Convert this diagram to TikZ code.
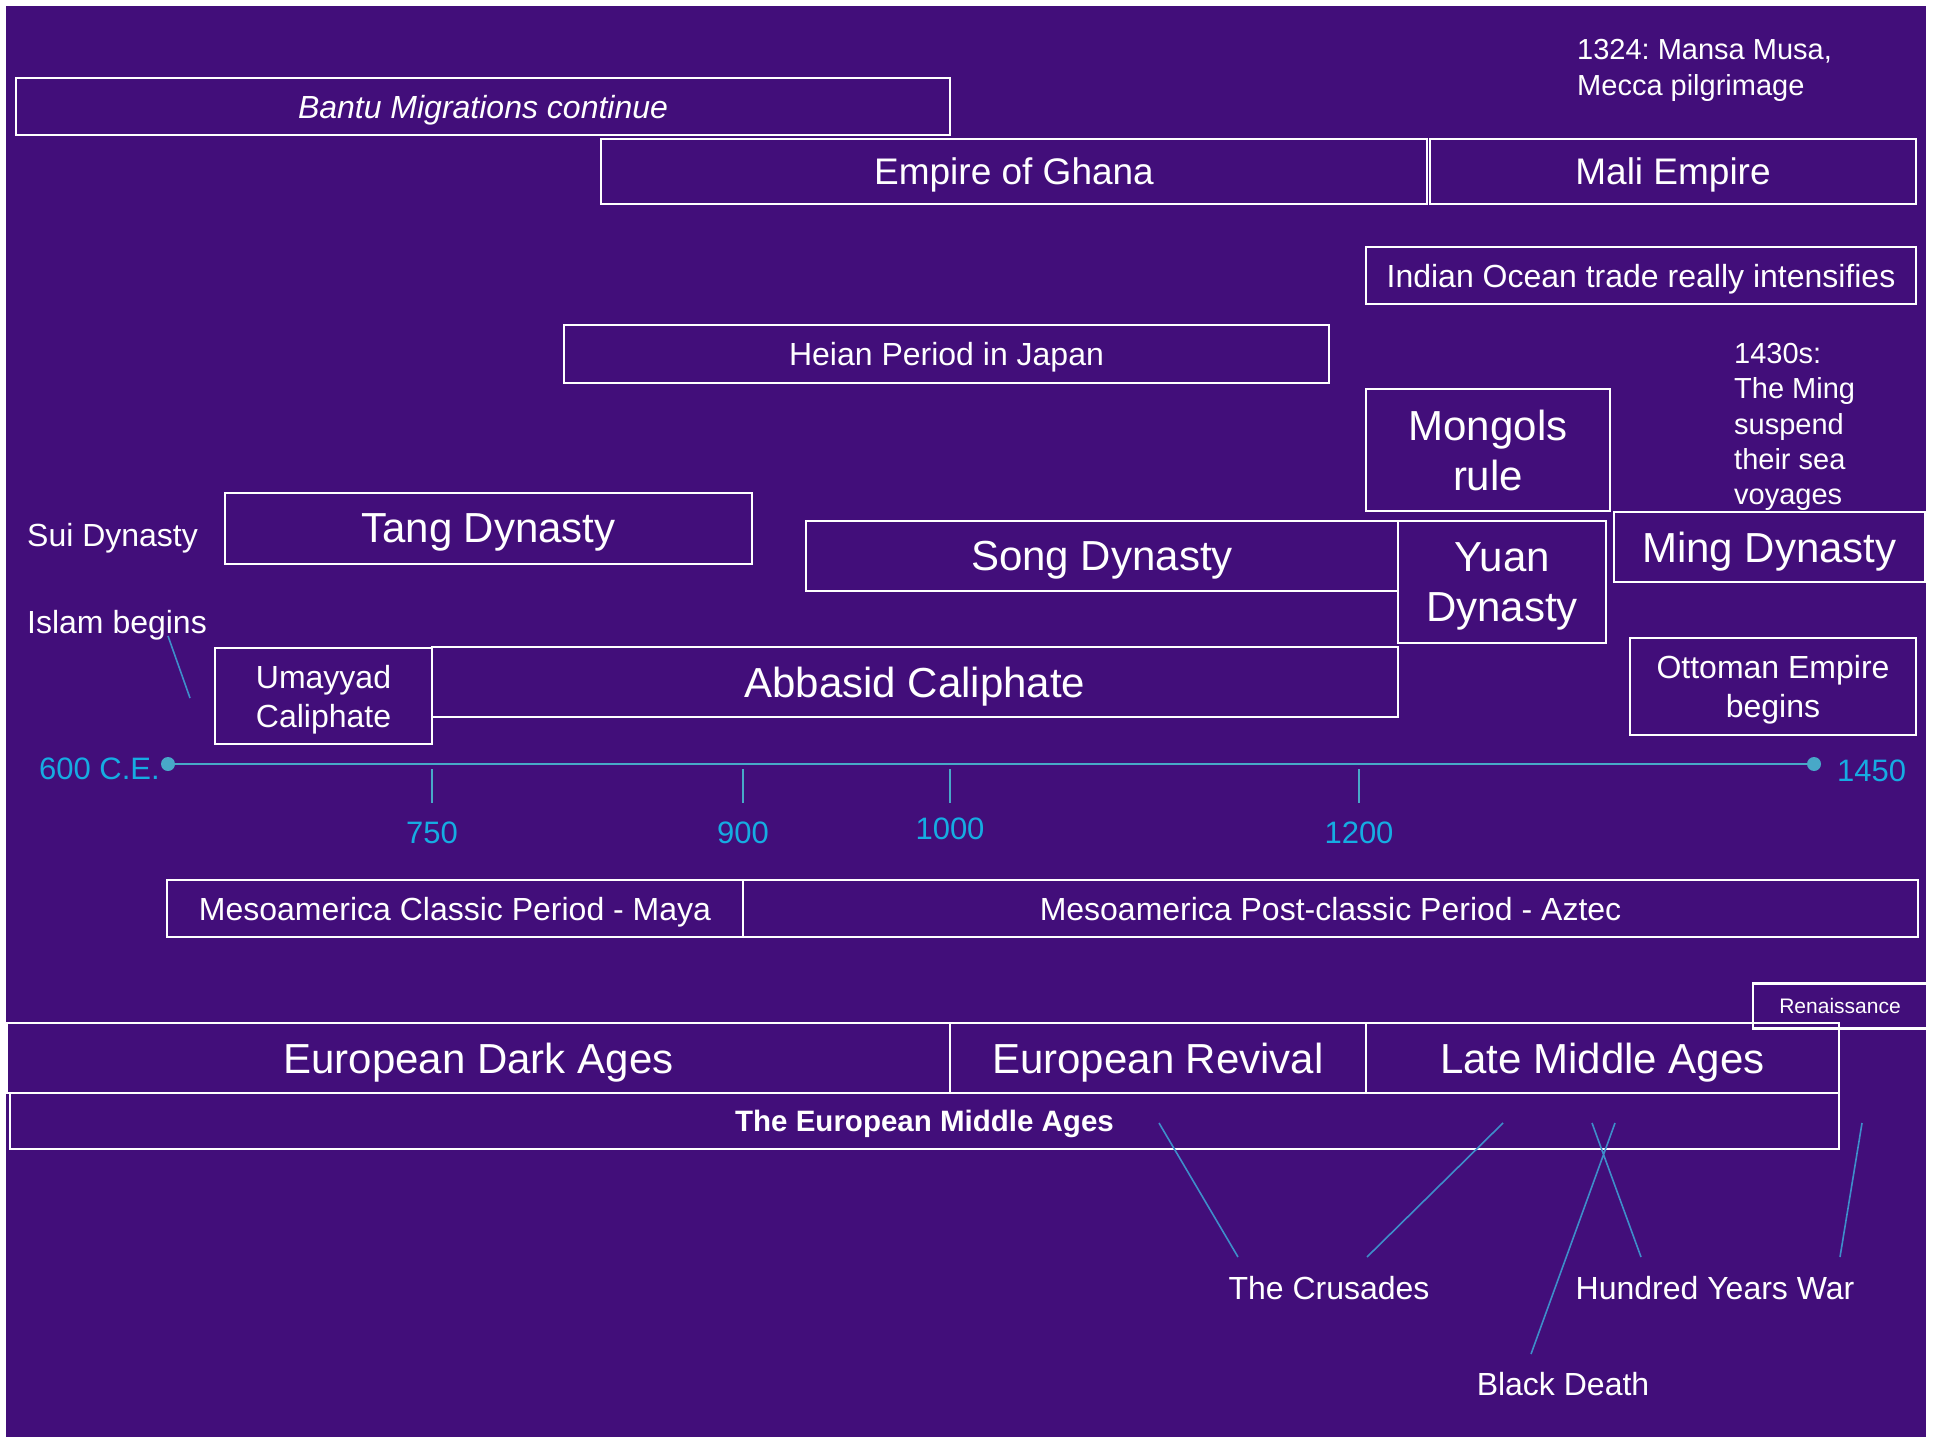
\documentclass[tikz,border=0pt]{standalone}
\usepackage{fontspec}
\setmainfont{Liberation Sans}
\usetikzlibrary{positioning}
\definecolor{bgpurple}{RGB}{66,14,122}
\definecolor{axisblue}{RGB}{72,168,200}
\definecolor{yearblue}{RGB}{22,172,226}
\definecolor{leadblue}{RGB}{62,142,202}
\frenchspacing

\begin{document}
\begin{tikzpicture}[x=1pt,y=-1pt]
\tikzstyle{box}=[draw=white,line width=2.2pt,text=white,inner sep=0pt,align=center,text depth=0pt];
\tikzstyle{bigtxt}=[font=\fontsize{42}{50}\selectfont];
\tikzstyle{midtxt}=[font=\fontsize{37}{44}\selectfont];
\tikzstyle{smtxt}=[font=\fontsize{32}{39}\selectfont];
\tikzstyle{note}=[text=white,inner sep=0pt,align=left,text depth=0pt,font=\fontsize{29}{35.3}\selectfont];
\tikzstyle{yr}=[text=yearblue,inner sep=0pt,font=\fontsize{31}{36}\selectfont];
\tikzstyle{lead}=[draw=leadblue,line width=1.6pt];

\useasboundingbox (0,0) rectangle (1935,1439);
\fill[white] (0,0) rectangle (1935,1439);
\fill[bgpurple] (6,6) rectangle (1926,1437);

% Africa
\node[box,smtxt,minimum width=934,minimum height=57] (bantu) at (483,106.5) {\itshape Bantu Migrations continue};
\node[box,midtxt,minimum width=826,minimum height=65] (ghana) at (1014,171.5) {Empire of Ghana};
\node[box,midtxt,minimum width=486,minimum height=65] (mali) at (1673,171.5) {Mali Empire};
\node[note,anchor=west] (musa) at (1577,67.5) {1324: Mansa Musa,\\Mecca pilgrimage};
\node[box,smtxt,minimum width=550,minimum height=57] (indian) at (1641,275.5) {Indian Ocean trade really intensifies};

% Asia
\node[box,smtxt,minimum width=765,minimum height=58] (heian) at (946.5,354) {Heian Period in Japan};
\node[note,anchor=west] (voyage) at (1734,424) {1430s:\\The Ming\\suspend\\their sea\\voyages};
\node[box,bigtxt,minimum width=244,minimum height=122] (mongol) at (1488,450) {Mongols\\rule};
\node[note,smtxt,anchor=west] (sui) at (27,534.5) {Sui Dynasty};
\node[box,bigtxt,minimum width=527,minimum height=71] (tang) at (488.5,528.5) {Tang Dynasty};
\node[box,bigtxt,minimum width=592,minimum height=70] (song) at (1102,556) {Song Dynasty};
\node[box,bigtxt,minimum width=208,minimum height=122] (yuan) at (1502,582) {Yuan\\Dynasty};
\node[box,bigtxt,minimum width=311,minimum height=70] (ming) at (1769.5,547) {Ming Dynasty};

% Islam
\node[note,smtxt,anchor=west] (islam) at (27,621.5) {Islam begins};
\node[box,smtxt,minimum width=217,minimum height=96] (umayyad) at (323.5,696) {Umayyad\\Caliphate};
\node[box,bigtxt,minimum width=966,minimum height=70] (abbasid) at (915,682) {Abbasid Caliphate};
\node[box,smtxt,minimum width=286,minimum height=97] (ottoman) at (1773,686.5) {Ottoman Empire\\begins};
\coordinate (i1) at (168,636);
\coordinate (i2) at (190,698);
\draw[lead] (i1) -- (i2);

% time line
\coordinate (t0) at (168,764);
\coordinate (t1) at (1814,764);
\draw[axisblue,line width=2.2pt] (t0) -- (t1);
\fill[axisblue] (t0) circle (7) (t1) circle (7);
\node[yr,anchor=east] (start) at (160,769) {600 C.E.};
\node[yr,anchor=west] (end) at (1837,771) {1450};
\foreach \x/\y/\n in {432/833/750,743/833/900,950/829/1000,1359/833/1200}{
  \draw[axisblue,line width=2pt] (\x,769) -- (\x,803);
  \node[yr] (y\n) at (\x,\y) {\n};
}

% Mesoamerica
\node[box,smtxt,minimum width=576,minimum height=57] (maya) at (455,908.5) {Mesoamerica Classic Period - Maya};
\node[box,smtxt,minimum width=1175,minimum height=57] (aztec) at (1330.5,908.5) {Mesoamerica Post-classic Period - Aztec};

% Europe
\node[box,minimum width=174,minimum height=45,font=\fontsize{21}{25}\selectfont] (renais) at (1840,1006) {Renaissance};
\node[box,bigtxt,minimum width=943,minimum height=70] (dark) at (478.5,1058) {European Dark Ages};
\node[box,bigtxt,minimum width=416,minimum height=70] (revival) at (1158,1058) {European Revival};
\node[box,bigtxt,minimum width=473,minimum height=70] (late) at (1602.5,1058) {Late Middle Ages};
\node[box,minimum width=1829,minimum height=56,font=\fontsize{29.5}{34}\selectfont\bfseries] (middle) at (924.5,1121) {The European Middle Ages};

\node[note,smtxt] (crusade) at (1329,1288) {The Crusades};
\node[note,smtxt] (hundred) at (1715,1288) {Hundred Years War};
\node[note,smtxt] (death) at (1563,1384) {Black Death};
\coordinate (c1) at (1159,1123);
\coordinate (c2) at (1238,1257);
\coordinate (c3) at (1503,1123);
\coordinate (c4) at (1367,1257);
\coordinate (h1) at (1592,1123);
\coordinate (h2) at (1641,1257);
\coordinate (h3) at (1862,1123);
\coordinate (h4) at (1840,1257);
\coordinate (b1) at (1615,1123);
\coordinate (b2) at (1531,1354);
\draw[lead] (c1) -- (c2) (c3) -- (c4)
(h1) -- (h2) (h3) -- (h4)
(b1) -- (b2);
\end{tikzpicture}
\end{document}
